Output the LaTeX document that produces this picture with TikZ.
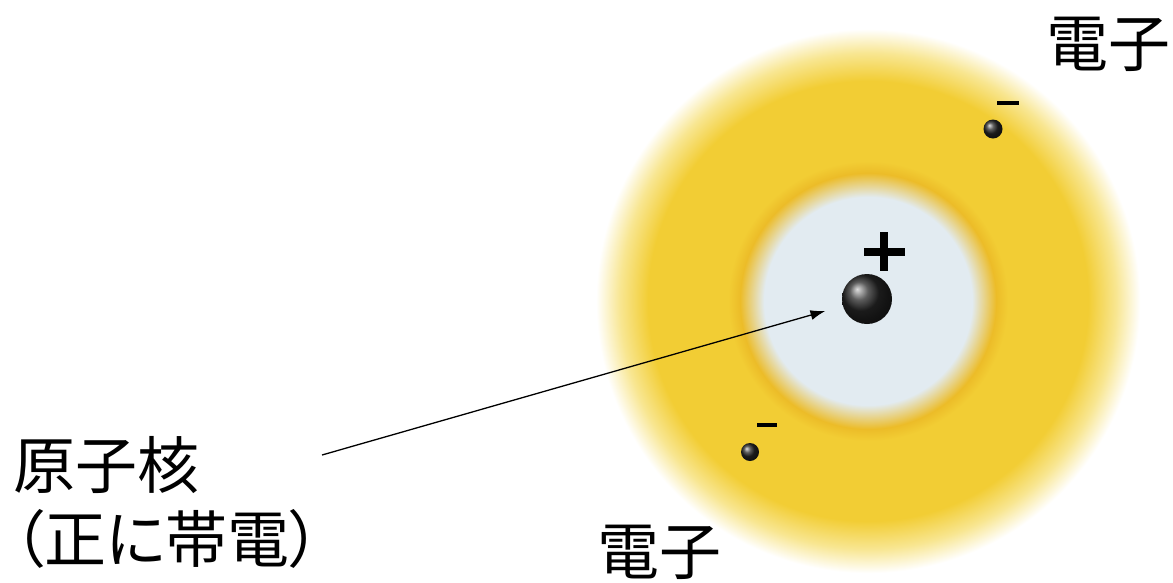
\documentclass[tikz,border=0pt]{standalone}
\usepackage{fontspec}
\newfontfamily\cjk{Noto Sans CJK JP}
\newfontfamily\cjkp[RawFeature=+palt]{Noto Sans CJK JP}
\usetikzlibrary{arrows.meta,positioning}

\definecolor{corebg}{RGB}{226,235,241}
\definecolor{amber}{RGB}{236,188,40}
\definecolor{cloudyellow}{RGB}{242,205,52}
\definecolor{paleyellow}{RGB}{248,230,145}

% soft electron cloud round the nucleus (25bp = rim of a 1000pt circle)
\pgfdeclareradialshading{cloud}{\pgfpoint{0bp}{0bp}}{%
  color(0bp)=(corebg); color(2.6bp)=(corebg); color(3.2bp)=(amber);
  color(3.5bp)=(cloudyellow); color(5.5bp)=(cloudyellow);
  color(6.2bp)=(paleyellow); color(6.8bp)=(white); color(50bp)=(white)}

\begin{document}
\begin{tikzpicture}[x=1pt,y=-1pt,
    word/.style={font=\cjk\fontsize{62}{70}\selectfont,inner sep=0pt},
    ball/.style={circle,inner sep=0pt,ball color=black!85},
    charge/.style={line width=#1,line cap=butt}]
\useasboundingbox (0,0) rectangle (1173,582);
\begin{scope}
\clip (0,0) rectangle (1173,582);
\fill[shading=cloud] (868,301) circle (1000);
\end{scope}
% nucleus and the two electrons
\node[ball,minimum size=50] (core) at (867,299) {};
\node[ball,minimum size=19] (e1) at (993,129) {};
\node[ball,minimum size=18] (e2) at (750,452) {};
\draw[charge=8pt] (864,252) -- (905,252) (884,232) -- (884,271);
\draw[charge=4pt] (997,103) -- (1019,103);
\draw[charge=4pt] (757,425) -- (777,425);
% labels
\node[word] (topword) at (1108,44) {電子};
\node[word] (botword) at (659,552) {電子};
\node[word,anchor=west] (corelabel) at (13,465) {原子核};
\node[word,font=\cjkp\fontsize{62}{70}\selectfont,text depth=0pt,anchor=base west] (chargelabel) at (13,562) {（正に帯電）};
\coordinate (tail) at (322,455);
\draw[-{Latex[length=15pt,width=10pt]},line width=1.3pt,shorten >=18pt] (tail) -- (core);
\end{tikzpicture}
\end{document}
